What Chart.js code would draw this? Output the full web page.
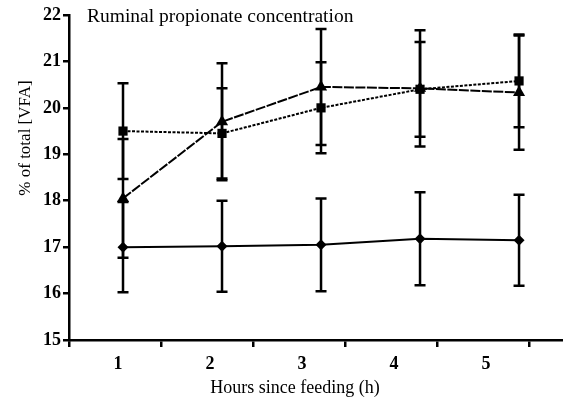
<!DOCTYPE html>
<html>
<head>
<meta charset="utf-8">
<script src="https://cdn.jsdelivr.net/npm/chart.js@4.4.1/dist/chart.umd.min.js"></script>
<style>
  html, body { margin: 0; padding: 0; background: #fff; }
  #wrap { position: relative; width: 563px; height: 402px; }
</style>
</head>
<body>
<div id="wrap"><canvas id="c"></canvas></div>
<script>
// ---- data ----
const hours = [1, 2, 3, 4, 5];
const xTickLabels = ['1', '2', '3', '4', '5'];
const diamondMean = [17.0, 17.02, 17.05, 17.18, 17.15];
const diamondErr  = [0.97, 0.98, 1.0, 1.0, 0.98];
const squareMean  = [19.5, 19.45, 20.0, 20.4, 20.58];
const squareErr   = [1.03, 0.97, 0.98, 1.02, 1.0];
const triangleMean = [18.05, 19.7, 20.45, 20.42, 20.33];
const triangleErr  = [1.28, 1.26, 1.25, 1.25, 1.23];
const chartTitle = 'Ruminal propionate concentration';
const xTitle = 'Hours since feeding (h)';
const yTitle = '% of total [VFA]';

const pts = (ys) => hours.map((h, i) => ({ x: h, y: ys[i] }));

const errorBars = {
  id: 'errorBars',
  afterDatasetsDraw(chart) {
    const ctx = chart.ctx;
    const ys = chart.scales.y;
    ctx.save();
    ctx.strokeStyle = '#000';
    ctx.lineWidth = 2.5;
    chart.data.datasets.forEach((ds, di) => {
      const meta = chart.getDatasetMeta(di);
      ds.err.forEach((e, i) => {
        const el = meta.data[i];
        const x = el.x;
        const yTop = ys.getPixelForValue(ds.data[i].y + e);
        const yBot = ys.getPixelForValue(ds.data[i].y - e);
        ctx.beginPath();
        ctx.moveTo(x, yTop); ctx.lineTo(x, yBot);
        ctx.moveTo(x - 5.5, yTop); ctx.lineTo(x + 5.5, yTop);
        ctx.moveTo(x - 5.5, yBot); ctx.lineTo(x + 5.5, yBot);
        ctx.stroke();
      });
    });
    ctx.restore();
  }
};

const texts = {
  id: 'texts',
  afterDraw(chart) {
    const ctx = chart.ctx;
    const area = chart.chartArea;
    ctx.save();
    ctx.fillStyle = '#000';
    ctx.font = '19.5px "Liberation Serif"';
    ctx.textAlign = 'left';
    ctx.textBaseline = 'alphabetic';
    ctx.fillText(chartTitle, area.left + 18, 22);
    ctx.font = '18px "Liberation Serif"';
    ctx.textAlign = 'center';
    ctx.fillText(xTitle, 295, 393);
    ctx.translate(30, 138);
    ctx.rotate(-Math.PI / 2);
    ctx.font = '17px "Liberation Serif"';
    ctx.fillText(yTitle, 0, 0);
    ctx.restore();
  }
};

new Chart(document.getElementById('c'), {
  type: 'line',
  data: {
    datasets: [
      {
        label: 'diamond', data: pts(diamondMean), err: diamondErr, xAxisID: 'xd',
        borderColor: '#000', backgroundColor: '#000', borderWidth: 2,
        pointStyle: 'rectRot', pointRadius: 5.5, pointBorderWidth: 0
      },
      {
        label: 'square', data: pts(squareMean), err: squareErr, xAxisID: 'xd',
        borderColor: '#000', backgroundColor: '#000', borderWidth: 2, borderDash: [3, 1.5],
        pointStyle: 'rect', pointRadius: 6.5, pointBorderWidth: 0
      },
      {
        label: 'triangle', data: pts(triangleMean), err: triangleErr, xAxisID: 'xd',
        borderColor: '#000', backgroundColor: '#000', borderWidth: 2, borderDash: [10, 1.5],
        pointStyle: 'triangle', pointRadius: 7, pointBorderWidth: 0
      }
    ]
  },
  options: {
    responsive: true,
    maintainAspectRatio: false,
    animation: false,
    layout: { autoPadding: false, padding: { top: 15, right: 0, left: 0, bottom: 0 } },
    plugins: { legend: { display: false }, tooltip: { enabled: false } },
    scales: {
      xd: {
        type: 'linear', display: false, min: 0.4545, max: 5.444
      },
      x: {
        type: 'linear', position: 'bottom', min: 0, max: 5.37,
        afterFit(s) { s.height = 62; s.paddingRight = 0; s.paddingLeft = 0; },
        border: { display: true, color: '#000', width: 2.5 },
        grid: { display: true, drawOnChartArea: false, drawTicks: true, tickLength: 7, color: '#000', lineWidth: 2.5 },
        ticks: {
          stepSize: 1, includeBounds: false, autoSkip: false, maxRotation: 0,
          labelOffset: 49, padding: 7, color: '#000',
          font: { family: '"Liberation Serif"', size: 18, weight: 'bold' },
          callback: (v) => (v >= 0 && v < xTickLabels.length ? xTickLabels[v] : '')
        }
      },
      y: {
        type: 'linear', min: 15, max: 22,
        afterFit(s) { s.width = 69; },
        border: { display: true, color: '#000', width: 2.5 },
        grid: { display: true, drawOnChartArea: false, drawTicks: true, tickLength: 6, color: '#000', lineWidth: 2.5 },
        ticks: {
          stepSize: 1, padding: 2, color: '#000',
          font: { family: '"Liberation Serif"', size: 18, weight: 'bold' }
        }
      }
    }
  },
  plugins: [errorBars, texts]
});
</script>
</body>
</html>
